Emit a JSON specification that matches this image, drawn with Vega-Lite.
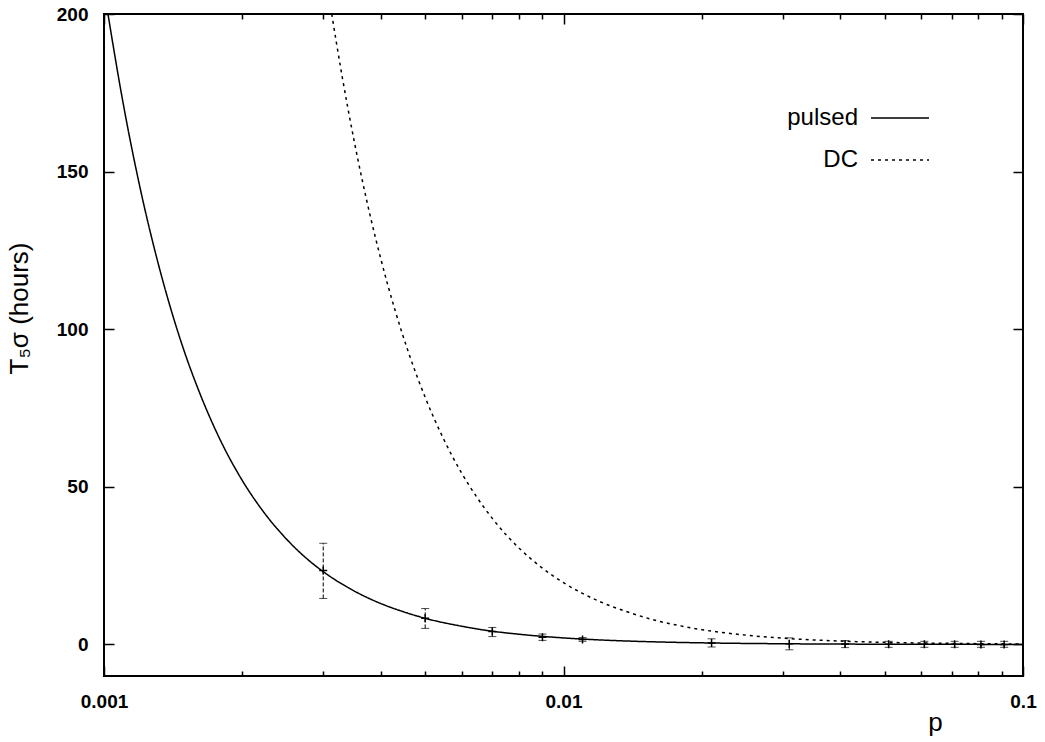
{
  "$schema": "https://vega.github.io/schema/vega-lite/v6.json",
  "width": 919,
  "height": 662,
  "autosize": {"type": "none"},
  "padding": {"left": 104, "top": 14, "right": 22, "bottom": 66},
  "background": "white",
  "config": {
    "view": {"stroke": "black", "strokeWidth": 2},
    "font": "Liberation Sans",
    "axis": {
      "grid": false,
      "domain": false,
      "tickColor": "black",
      "tickWidth": 1.5,
      "labelColor": "black",
      "titleColor": "black",
      "labelFont": "Liberation Sans",
      "labelFontSize": 19,
      "labelFontWeight": "bold",
      "titleFont": "Liberation Sans",
      "titleFontSize": 26,
      "titleFontWeight": "normal"
    },
    "legend": {"padding": 0}
  },
  "datasets": {
    "curves": [
      {"series": "pulsed", "p": 0.00102, "T": 200},
      {"series": "pulsed", "p": 0.0011, "T": 171.9},
      {"series": "pulsed", "p": 0.0012, "T": 144.4},
      {"series": "pulsed", "p": 0.0013, "T": 123.1},
      {"series": "pulsed", "p": 0.0014, "T": 106.1},
      {"series": "pulsed", "p": 0.0015, "T": 92.4},
      {"series": "pulsed", "p": 0.0016, "T": 81.3},
      {"series": "pulsed", "p": 0.0018, "T": 64.2},
      {"series": "pulsed", "p": 0.002, "T": 52.0},
      {"series": "pulsed", "p": 0.0022, "T": 43.0},
      {"series": "pulsed", "p": 0.0025, "T": 33.3},
      {"series": "pulsed", "p": 0.0028, "T": 26.5},
      {"series": "pulsed", "p": 0.003, "T": 23.1},
      {"series": "pulsed", "p": 0.0035, "T": 17.0},
      {"series": "pulsed", "p": 0.004, "T": 13.0},
      {"series": "pulsed", "p": 0.0045, "T": 10.3},
      {"series": "pulsed", "p": 0.005, "T": 8.3},
      {"series": "pulsed", "p": 0.006, "T": 5.8},
      {"series": "pulsed", "p": 0.007, "T": 4.2},
      {"series": "pulsed", "p": 0.008, "T": 3.25},
      {"series": "pulsed", "p": 0.009, "T": 2.57},
      {"series": "pulsed", "p": 0.01, "T": 2.08},
      {"series": "pulsed", "p": 0.012, "T": 1.44},
      {"series": "pulsed", "p": 0.015, "T": 0.92},
      {"series": "pulsed", "p": 0.02, "T": 0.52},
      {"series": "pulsed", "p": 0.03, "T": 0.23},
      {"series": "pulsed", "p": 0.04, "T": 0.13},
      {"series": "pulsed", "p": 0.06, "T": 0.058},
      {"series": "pulsed", "p": 0.08, "T": 0.033},
      {"series": "pulsed", "p": 0.1, "T": 0.021},
      {"series": "DC", "p": 0.00313, "T": 200},
      {"series": "DC", "p": 0.0033, "T": 180},
      {"series": "DC", "p": 0.0035, "T": 160},
      {"series": "DC", "p": 0.0038, "T": 135.7},
      {"series": "DC", "p": 0.004, "T": 122.5},
      {"series": "DC", "p": 0.0043, "T": 106},
      {"series": "DC", "p": 0.0046, "T": 92.6},
      {"series": "DC", "p": 0.005, "T": 78.4},
      {"series": "DC", "p": 0.0055, "T": 64.8},
      {"series": "DC", "p": 0.006, "T": 54.4},
      {"series": "DC", "p": 0.0065, "T": 46.4},
      {"series": "DC", "p": 0.007, "T": 40},
      {"series": "DC", "p": 0.0075, "T": 34.8},
      {"series": "DC", "p": 0.008, "T": 30.6},
      {"series": "DC", "p": 0.009, "T": 24.2},
      {"series": "DC", "p": 0.01, "T": 19.6},
      {"series": "DC", "p": 0.011, "T": 16.2},
      {"series": "DC", "p": 0.012, "T": 13.6},
      {"series": "DC", "p": 0.014, "T": 10.0},
      {"series": "DC", "p": 0.016, "T": 7.5},
      {"series": "DC", "p": 0.018, "T": 5.9},
      {"series": "DC", "p": 0.02, "T": 4.7},
      {"series": "DC", "p": 0.025, "T": 2.95},
      {"series": "DC", "p": 0.03, "T": 2.0},
      {"series": "DC", "p": 0.04, "T": 1.08},
      {"series": "DC", "p": 0.05, "T": 0.67},
      {"series": "DC", "p": 0.06, "T": 0.46},
      {"series": "DC", "p": 0.07, "T": 0.34},
      {"series": "DC", "p": 0.08, "T": 0.26},
      {"series": "DC", "p": 0.1, "T": 0.16}
    ],
    "measured": [
      {"p": 0.003, "T": 23.5, "lo": 14.6, "hi": 32.1},
      {"p": 0.005, "T": 8.3, "lo": 5.1, "hi": 11.4},
      {"p": 0.007, "T": 4.1, "lo": 2.5, "hi": 5.4},
      {"p": 0.009, "T": 2.3, "lo": 1.3, "hi": 3.3},
      {"p": 0.011, "T": 1.6, "lo": 1.0, "hi": 2.2},
      {"p": 0.021, "T": 0.5, "lo": -0.8, "hi": 1.8},
      {"p": 0.031, "T": 0.2, "lo": -1.7, "hi": 2.1},
      {"p": 0.041, "T": 0.12, "lo": -1.0, "hi": 1.2},
      {"p": 0.051, "T": 0.08, "lo": -0.9, "hi": 1.0},
      {"p": 0.061, "T": 0.06, "lo": -0.9, "hi": 1.0},
      {"p": 0.071, "T": 0.04, "lo": -0.9, "hi": 1.0},
      {"p": 0.081, "T": 0.03, "lo": -0.9, "hi": 1.0},
      {"p": 0.091, "T": 0.03, "lo": -0.9, "hi": 1.0}
    ]
  },
  "layer": [
    {
      "data": {"name": "curves"},
      "mark": {"type": "line", "color": "black", "strokeWidth": 1.5, "clip": true, "interpolate": "monotone"},
      "encoding": {
        "x": {
          "field": "p", "type": "quantitative",
          "scale": {"type": "log", "domain": [0.001, 0.1], "nice": false},
          "axis": {
            "orient": "bottom", "values": [0.001, 0.01, 0.1], "format": "~g",
            "tickSize": -10, "labelPadding": 26, "labelFlush": false,
            "title": "p", "titleX": 831, "titleY": 54, "titleBaseline": "alphabetic", "titleAlign": "center"
          }
        },
        "y": {
          "field": "T", "type": "quantitative",
          "scale": {"domain": [-10, 200], "nice": false, "zero": false},
          "axis": {
            "orient": "left", "values": [0, 50, 100, 150, 200],
            "tickSize": -10, "labelPadding": 26,
            "title": "T₅σ (hours)", "titleX": -77, "titleY": 294,
            "titleBaseline": "alphabetic", "titleAlign": "center", "titleAngle": -90
          }
        },
        "strokeDash": {
          "field": "series", "type": "nominal",
          "scale": {"domain": ["pulsed", "DC"], "range": [[1, 0], [3, 4]]},
          "legend": {
            "orient": "none", "legendX": 766, "legendY": 74,
            "title": null, "symbolType": "stroke", "symbolSize": 3364,
            "symbolStrokeWidth": 1.5, "symbolStrokeColor": "black",
            "labelAlign": "right", "labelOffset": -72,
            "labelFont": "Liberation Sans", "labelFontSize": 24, "labelFontWeight": "normal",
            "labelColor": "black", "rowPadding": -18
          }
        }
      }
    },
    {
      "data": {"name": "measured"},
      "mark": {"type": "rule", "color": "black", "strokeWidth": 1, "strokeDash": [4, 2]},
      "encoding": {
        "x": {
          "field": "p", "type": "quantitative",
          "scale": {"type": "log", "domain": [0.001, 0.1], "nice": false},
          "axis": {
            "orient": "bottom",
            "values": [0.002, 0.003, 0.004, 0.005, 0.006, 0.007, 0.008, 0.009, 0.02, 0.03, 0.04, 0.05, 0.06, 0.07, 0.08, 0.09],
            "tickSize": -5, "labels": false, "title": null
          }
        },
        "y": {
          "field": "lo", "type": "quantitative",
          "scale": {"domain": [-10, 200], "nice": false, "zero": false},
          "axis": {"orient": "right", "values": [0, 50, 100, 150, 200], "tickSize": -10, "labels": false, "title": null}
        },
        "y2": {"field": "hi"}
      }
    },
    {
      "data": {"name": "measured"},
      "mark": {"type": "tick", "color": "black", "orient": "horizontal", "size": 8, "thickness": 1},
      "encoding": {
        "x": {
          "field": "p", "type": "quantitative",
          "scale": {"type": "log", "domain": [0.001, 0.1], "nice": false},
          "axis": {"orient": "top", "values": [0.001, 0.01, 0.1], "tickSize": -10, "labels": false, "title": null}
        },
        "y": {
          "field": "lo", "type": "quantitative",
          "scale": {"domain": [-10, 200], "nice": false, "zero": false},
          "axis": null
        }
      }
    },
    {
      "data": {"name": "measured"},
      "mark": {"type": "tick", "color": "black", "orient": "horizontal", "size": 8, "thickness": 1},
      "encoding": {
        "x": {
          "field": "p", "type": "quantitative",
          "scale": {"type": "log", "domain": [0.001, 0.1], "nice": false},
          "axis": {
            "orient": "top",
            "values": [0.002, 0.003, 0.004, 0.005, 0.006, 0.007, 0.008, 0.009, 0.02, 0.03, 0.04, 0.05, 0.06, 0.07, 0.08, 0.09],
            "tickSize": -5, "labels": false, "title": null
          }
        },
        "y": {
          "field": "hi", "type": "quantitative",
          "scale": {"domain": [-10, 200], "nice": false, "zero": false},
          "axis": null
        }
      }
    },
    {
      "data": {"name": "measured"},
      "mark": {"type": "point", "shape": "M-1,0H1M0,-1V1", "size": 64, "filled": false, "color": "black", "strokeWidth": 1.5, "opacity": 1},
      "encoding": {
        "x": {
          "field": "p", "type": "quantitative",
          "scale": {"type": "log", "domain": [0.001, 0.1], "nice": false},
          "axis": null
        },
        "y": {
          "field": "T", "type": "quantitative",
          "scale": {"domain": [-10, 200], "nice": false, "zero": false},
          "axis": null
        }
      }
    }
  ],
  "resolve": {"axis": {"x": "independent", "y": "independent"}}
}
